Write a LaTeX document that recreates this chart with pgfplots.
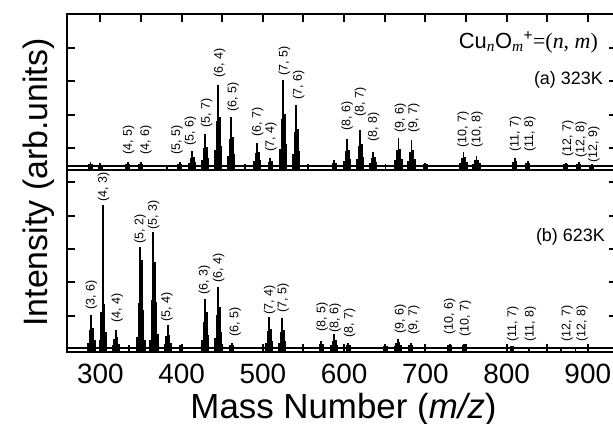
\documentclass[border=0pt]{standalone}
\usepackage{fontspec}
\setmainfont{Liberation Sans}
\newfontfamily\tnr{Liberation Serif}
\usepackage{pgfplots}
\pgfplotsset{compat=1.18}

% peak label: mass, bottom of text, (n, m)
\newcommand{\lab}[3]{\node[lbl] at (axis cs:#1,#2) {(#3)};}

\pgfplotsset{
  spec/.style={
    scale only axis, width=550bp,
    xmin=259, xmax=936, ymin=0,
    tick align=inside, ytick pos=both,
    xtick={300,400,...,900}, minor x tick num=1,
    major tick length=8bp, minor tick length=8bp,
    tick style={line width=2bp, black},
    axis line style={line width=1.8bp},
    yticklabels={},
  },
  stick/.style={ycomb, black, line width=1.8bp, no marks},
  base/.style={black, line width=1.6bp, no marks},
}

\begin{document}
\begin{tikzpicture}[lbl/.style={rotate=90, anchor=west, inner sep=0pt,
    font=\fontsize{12.5}{12.5}\selectfont}]
\useasboundingbox (0,0) rectangle (613bp,424bp);

% (a) 323 K
\begin{axis}[spec, at={(67bp,254bp)}, anchor=south west, height=156bp,
  ymax=156, xtick pos=right, xticklabels={},
  ytick={22,55.3,88.7,122}]
\addplot[base] coordinates {(259,4) (936,4)};
\addplot[stick] coordinates {
(286,6)(288,8)(290,6)
(298,5.2)(300,6.5)(302,5.2)
(332,5.8)(334,7.5)(336,5.8)
(348,5.8)(350,7.7)(352,5.8)
(382,5)
(396,6.2)(398,8.3)(400,6.2)
(409,7.1)(411,12.4)(413,19.3)(415,13.2)(417,7.8)
(425,10.4)(427,21.6)(429,36)(431,23.2)(433,12)
(441,20.2)(443,48.6)(445,85)(447,52.6)(449,24.3)
(457,13.7)(459,30.8)(461,52.7)(463,33.2)(465,16.2)
(478,6)
(489,8.5)(491,16.5)(493,26.7)(495,17.6)(497,9.7)
(507,8.2)(509,11.7)(511,8.6)
(521,21.2)(523,51.3)(525,90)(527,55.6)(529,25.5)
(537,16.2)(539,37.6)(541,65)(543,40.6)(545,19.3)
(556,5.5)
(586,7)(588,9.5)(590,7.3)
(600,9.3)(602,18.7)(604,30.7)(606,20)(608,10.7)
(616,11.2)(618,23.8)(620,40)(622,25.6)(624,13)
(632,6.9)(634,11.9)(636,18.3)(638,12.6)(640,7.6)
(651,6)
(663,9.7)(665,19.6)(667,32.3)(669,21)(671,11.1)
(679,9.2)(681,18.3)(683,30)(685,19.6)(687,10.5)
(698,5.5)(700,6.7)(702,5.5)
(743,6.9)(745,11.9)(747,18.3)(749,12.6)(751,7.6)
(759,6)(761,9.5)(763,14)(765,10)(767,6.5)
(808,8.2)(810,11.7)(812,8.6)
(824,6.8)(826,9)(828,7)
(871,5.5)(873,6.7)(875,5.5)
(887,6.2)(889,8.3)(891,6.4)
(903,5)(905,6)(907,5)
};
\lab{334.9}{15}{4, 5}
\lab{356}{15}{4, 6}
\lab{394.4}{15}{5, 5}
\lab{411}{24}{5, 6}
\lab{431}{42}{5, 7}
\lab{447}{92}{6, 4}
\lab{463.4}{58}{6, 5}
\lab{493.7}{33}{6, 7}
\lab{510}{18}{7, 4}
\lab{526.6}{94}{7, 5}
\lab{544}{70}{7, 6}
\lab{603.8}{39}{8, 6}
\lab{620}{53}{8, 7}
\lab{636.6}{28}{8, 8}
\lab{669.5}{37}{9, 6}
\lab{686}{37}{9, 7}
\lab{746.7}{22}{10, 7}
\lab{764}{22}{10, 8}
\lab{811}{18}{11, 7}
\lab{828.7}{18}{11, 8}
\lab{875.5}{13}{12, 7}
\lab{892}{12}{12, 8}
\lab{907.5}{7}{12, 9}
\end{axis}

% (b) 623 K
\begin{axis}[spec, at={(67bp,72bp)}, anchor=south west, height=182bp,
  ymax=182, xtick pos=left,
  ytick={36.3,69.7,103,136.3,169.7},
  /pgf/number format/assume math mode=true,
  xticklabel style={inner sep=0pt, yshift=-12bp,
    font=\fontsize{28}{28}\selectfont}]
\addplot[base] coordinates {(259,4) (936,4)};
\addplot[stick] coordinates {
(285,9)(287,22.2)(289,37)(291,23.8)(293,12.3)
(299,12)(301,40)(303,147)(304,100)(305,48)(307,20)
(315,7)(317,13)(319,22)(321,15)(323,8)
(335,7)
(345,15)(347,49)(349,105)(351,92)(353,42)(355,12)
(361,12)(363,52)(365,120)(367,90)(369,50)(371,18)
(379,8)(381,16)(383,27)(385,17)(387,9)
(398,7)
(425,12)(427,30)(429,53)(431,40)(433,17)
(441,14)(443,37)(445,65)(447,45)(449,20)
(460,7)(462,9)(464,7)
(504,9)(506,21)(508,35)(510,23)(512,11)
(520,9)(522,20)(524,34)(526,22)(528,11)
(570,7.5)(572,11)(574,8)
(584,7)(586,11)(588,18)(590,12)(592,7)
(603,7)(605,9)(607,7)
(649,6)(651,7)(653,6)
(662,6)(664,9)(666,12.7)(668,9.5)(670,6.5)
(680,7)(682,9)(684,7)
(728,6.5)(730,8)(732,6.5)
(746,6.5)(748,8)(750,6.5)
(806,6)(808,5.5)
(828,5)
(867,5)
(885,5)
};
\lab{289}{42}{3, 6}
\lab{304}{150}{4, 3}
\lab{320.6}{29}{4, 4}
\lab{349}{108}{5, 2}
\lab{365.7}{122}{5, 3}
\lab{382}{30}{5, 4}
\lab{428}{57}{6, 3}
\lab{445.7}{69}{6, 4}
\lab{466}{15}{6, 5}
\lab{508.5}{37}{7, 4}
\lab{525}{39}{7, 5}
\lab{573}{20}{8, 5}
\lab{589}{19}{8, 6}
\lab{607}{14}{8, 7}
\lab{669.5}{18}{9, 6}
\lab{686}{17}{9, 7}
\lab{730}{17}{10, 6}
\lab{749.5}{15}{10, 7}
\lab{808}{10}{11, 7}
\lab{829.5}{10}{11, 8}
\lab{874.7}{10}{12, 7}
\lab{893}{10}{12, 8}
\end{axis}

% titles and axis labels
\node[anchor=base east, inner sep=0pt, font=\fontsize{22}{22}\selectfont]
  at (598bp,375.7bp)
  {Cu\textsubscript{\tnr\itshape n}O\textsubscript{\tnr\itshape m}\textsuperscript{+}{\tnr =(\textit{n}, \textit{m})}};
\node[anchor=base east, inner sep=0pt, font=\fontsize{18}{18}\selectfont]
  at (603bp,339bp) {(a) 323K};
\node[anchor=base east, inner sep=0pt, font=\fontsize{18}{18}\selectfont]
  at (605bp,182bp) {(b) 623K};
\node[anchor=base, inner sep=0pt, font=\fontsize{35}{35}\selectfont]
  at (343.5bp,6bp) {Mass Number (\textit{m/z})};
\node[rotate=90, anchor=base, inner sep=0pt, font=\fontsize{34}{34}\selectfont]
  at (47bp,241.5bp) {Intensity (arb.units)};
\end{tikzpicture}
\end{document}
